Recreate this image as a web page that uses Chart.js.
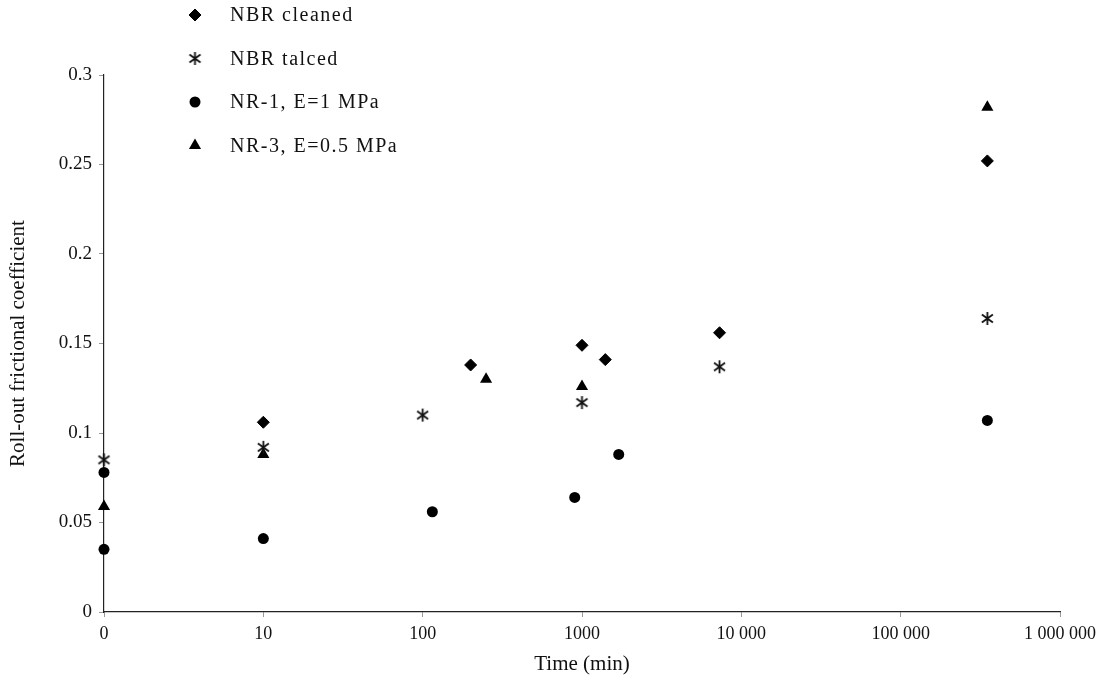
<!DOCTYPE html>
<html>
<head>
<meta charset="utf-8">
<script src="https://cdn.jsdelivr.net/npm/chart.js@4/dist/chart.umd.min.js"></script>
<style>
  body { margin: 0; background: #fff; }
  canvas { display: block; }
</style>
</head>
<body>
<canvas id="chart" width="1120" height="689"></canvas>
<script>
// values (time in minutes, log axis; "0" tick is 1 min)
const nbrCleanedX = [10, 200, 1000, 1400, 7300, 350000];
const nbrCleanedY = [0.106, 0.138, 0.149, 0.141, 0.156, 0.252];

const nbrTalcedX = [1, 10, 100, 1000, 7300, 350000];
const nbrTalcedY = [0.085, 0.092, 0.110, 0.117, 0.137, 0.164];

const nr1X = [1, 1, 10, 115, 900, 1700, 350000];
const nr1Y = [0.078, 0.035, 0.041, 0.056, 0.064, 0.088, 0.107];

const nr3X = [1, 10, 250, 1000, 350000];
const nr3Y = [0.059, 0.088, 0.130, 0.126, 0.282];

const xTicks = [1, 10, 100, 1000, 10000, 100000, 1000000];
const xTickLabels = ["0", "10", "100", "1000", "10 000", "100 000", "1 000 000"];
const yTicks = [0, 0.05, 0.1, 0.15, 0.2, 0.25, 0.3];
const yTickLabels = ["0", "0.05", "0.1", "0.15", "0.2", "0.25", "0.3"];

const FONT = "'Liberation Serif', 'DejaVu Serif', serif";

function pts(xs, ys) {
  return xs.map((x, i) => ({ x: x, y: ys[i] }));
}

// asterisk marker: an X with a vertical bar through it
function asterisk() {
  const c = document.createElement("canvas");
  c.width = 15;
  c.height = 15;
  const g = c.getContext("2d");
  g.strokeStyle = "#111";
  g.lineWidth = 1.8;
  g.beginPath();
  g.moveTo(7.5, 1); g.lineTo(7.5, 14);
  g.moveTo(2, 3.5); g.lineTo(13, 11.5);
  g.moveTo(2, 11.5); g.lineTo(13, 3.5);
  g.stroke();
  return c;
}

const legendPlugin = {
  id: "sideLegend",
  afterDraw(chart) {
    const ctx = chart.ctx;
    ctx.save();
    chart.data.datasets.forEach((ds, i) => {
      const y = 15 + i * 43.5;
      const opts = {
        pointStyle: ds.pointStyle,
        radius: ds.pointRadius,
        borderWidth: ds.borderWidth
      };
      ctx.fillStyle = ds.backgroundColor;
      ctx.strokeStyle = ds.borderColor;
      ctx.lineWidth = ds.borderWidth;
      Chart.helpers.drawPoint(ctx, opts, 195, y);
      ctx.fillStyle = "#111";
      ctx.font = "20px " + FONT;
      ctx.letterSpacing = "1.5px";
      ctx.textBaseline = "middle";
      ctx.fillText(ds.label, 230, y + 1);
    });
    ctx.restore();
  }
};

new Chart(document.getElementById("chart"), {
  type: "scatter",
  data: {
    datasets: [
      { label: "NBR cleaned", data: pts(nbrCleanedX, nbrCleanedY), pointStyle: "rectRot",
        pointRadius: 6, backgroundColor: "#000", borderColor: "#000", borderWidth: 1, clip: false },
      { label: "NBR talced", data: pts(nbrTalcedX, nbrTalcedY), pointStyle: asterisk(),
        pointRadius: 6, backgroundColor: "#111", borderColor: "#111", borderWidth: 1, clip: false },
      { label: "NR-1, E=1 MPa", data: pts(nr1X, nr1Y), pointStyle: "circle",
        pointRadius: 5.5, backgroundColor: "#000", borderColor: "#000", borderWidth: 0, clip: false },
      { label: "NR-3, E=0.5 MPa", data: pts(nr3X, nr3Y), pointStyle: "triangle",
        pointRadius: 7, backgroundColor: "#000", borderColor: "#000", borderWidth: 0, clip: false }
    ]
  },
  options: {
    responsive: false,
    animation: false,
    layout: { padding: { top: 75, right: 60, left: 0, bottom: 0 } },
    plugins: {
      legend: { display: false },
      tooltip: { enabled: false }
    },
    scales: {
      x: {
        type: "logarithmic",
        min: 1,
        max: 1000000,
        afterBuildTicks: s => { s.ticks = xTicks.map(v => ({ value: v })); },
        afterFit: s => { s.height = 77; },
        ticks: {
          autoSkip: false,
          maxRotation: 0,
          color: "#111",
          padding: 6,
          font: { family: FONT, size: 18 },
          callback: v => xTickLabels[xTicks.indexOf(v)]
        },
        grid: { drawOnChartArea: false, tickLength: 5, color: "#999" },
        border: { color: "#222", width: 1.2 },
        title: {
          display: true,
          text: "Time (min)",
          color: "#111",
          font: { family: FONT, size: 21 },
          padding: { top: 4, bottom: 12 }
        }
      },
      y: {
        min: 0,
        max: 0.3,
        afterBuildTicks: s => { s.ticks = yTicks.map(v => ({ value: v })); },
        afterFit: s => { s.width = 104; },
        ticks: {
          color: "#111",
          padding: 7,
          font: { family: FONT, size: 19 },
          callback: v => yTickLabels[yTicks.indexOf(v)]
        },
        grid: { drawOnChartArea: false, tickLength: 5, color: "#999" },
        border: { color: "#222", width: 1.2 },
        title: {
          display: true,
          text: "Roll-out frictional coefficient",
          color: "#111",
          font: { family: FONT, size: 21 },
          padding: { top: 6, bottom: 4 }
        }
      }
    }
  },
  plugins: [legendPlugin]
});
</script>
</body>
</html>
